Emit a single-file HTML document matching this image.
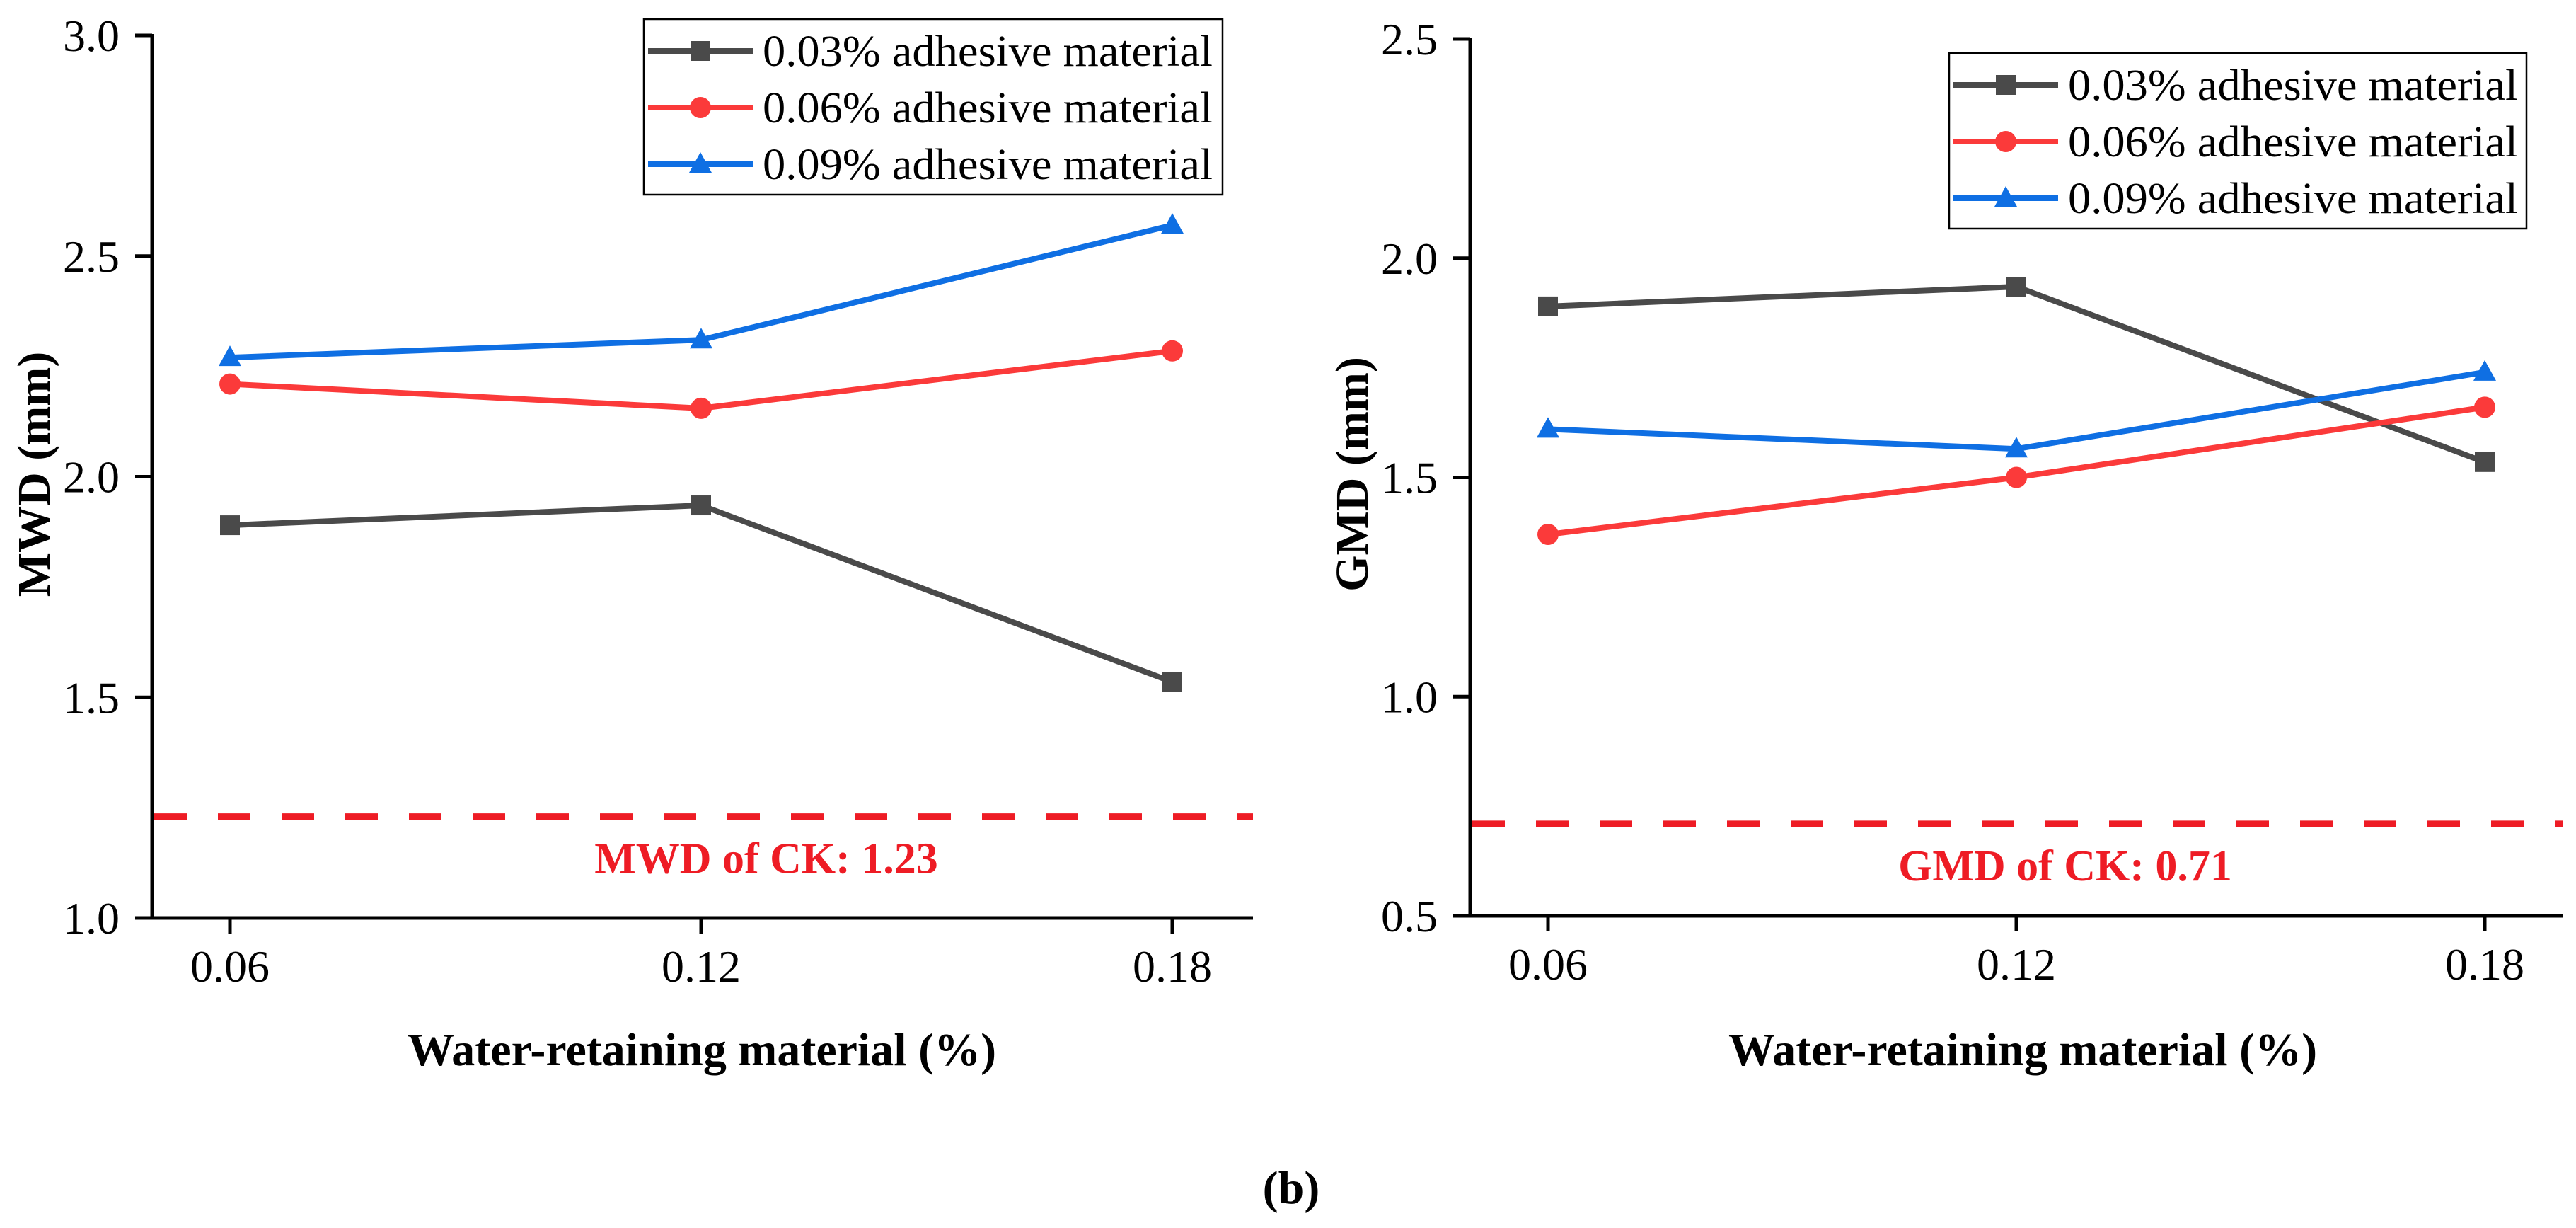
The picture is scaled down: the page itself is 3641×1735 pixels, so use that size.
<!DOCTYPE html>
<html><head><meta charset="utf-8">
<style>
html,body{margin:0;padding:0;background:#fff;}
svg{display:block;font-family:"Liberation Serif",serif;}
</style></head>
<body>
<svg id="fig" width="3641" height="1735" viewBox="0 0 3641 1735" xmlns="http://www.w3.org/2000/svg">
<text x="1825" y="1700" font-size="66" font-weight="bold" text-anchor="middle">(<tspan font-weight="bold">b</tspan>)</text>
</svg>
<script>
const categories = ["0.06", "0.12", "0.18"];
const seriesNames = ["0.03% adhesive material", "0.06% adhesive material", "0.09% adhesive material"];
const mwd003 = [1.89, 1.935, 1.535];
const mwd006 = [2.21, 2.155, 2.285];
const mwd009 = [2.27, 2.31, 2.57];
const gmd003 = [1.89, 1.935, 1.535];
const gmd006 = [1.37, 1.50, 1.66];
const gmd009 = [1.61, 1.565, 1.74];
const mwdTicks = ["1.0", "1.5", "2.0", "2.5", "3.0"];
const gmdTicks = ["0.5", "1.0", "1.5", "2.0", "2.5"];
const mwdCK = 1.23;
const gmdCK = 0.71;

const NS = "http://www.w3.org/2000/svg";
const svg = document.getElementById("fig");
const colors = ["#4a4a4a", "#fb3a3a", "#0f6fe3"];
const markers = ["square", "circle", "triangle"];

function mk(tag, attrs, parent) {
  const e = document.createElementNS(NS, tag);
  for (const k in attrs) e.setAttribute(k, attrs[k]);
  (parent || svg).appendChild(e);
  return e;
}
function marker(g, type, x, y, c) {
  let m;
  if (type === "square") m = mk("rect", {x: x - 14, y: y - 14, width: 28, height: 28, fill: c}, g);
  else if (type === "circle") m = mk("circle", {cx: x, cy: y, r: 15, fill: c}, g);
  else m = mk("polygon", {points: `${x},${y - 17} ${x + 16},${y + 12} ${x - 16},${y + 12}`, fill: c}, g);
  return m;
}

function panel(cfg) {
  const g = mk("g", {});
  
  
  const yS = v => cfg.y0 + (v - cfg.vmin) / (cfg.vmax - cfg.vmin) * (cfg.y1 - cfg.y0);
  const xS = i => cfg.xs[0] + i * (cfg.xs[1] - cfg.xs[0]);
  // axes
  const ax = mk("path", {d: `M${cfg.ax},${cfg.y1 - 2} V${cfg.y0} H${cfg.axEnd}`, stroke: "#000", "stroke-width": 5, fill: "none"}, g);
  
  
  // y ticks
  cfg.ticks.forEach(t => {
    const y = yS(parseFloat(t));
    mk("line", {x1: cfg.ax - 24, x2: cfg.ax, y1: y, y2: y, stroke: "#000", "stroke-width": 5}, g);
    const tx = mk("text", {x: cfg.ax - 46, y: y + 22, "font-size": 64, "text-anchor": "end"}, g);
    tx.textContent = t;
    
    
  });
  // x ticks
  categories.forEach((c, i) => {
    const x = xS(i);
    mk("line", {x1: x, x2: x, y1: cfg.y0, y2: cfg.y0 + 22, stroke: "#000", "stroke-width": 5}, g);
    const tx = mk("text", {x: x, y: cfg.y0 + 90, "font-size": 64, "text-anchor": "middle"}, g);
    tx.textContent = c;
    
    
  });
  // CK dashed line
  const ckY = yS(cfg.ck);
  const dl = mk("line", {x1: cfg.ax + 3, x2: cfg.axEnd, y1: ckY, y2: ckY, stroke: "#ee1c25", "stroke-width": 9, "stroke-dasharray": "46 44"}, g);
  
  
  const ckT = mk("text", {x: cfg.ckX, y: ckY + 80, "font-size": 62, "font-weight": "bold", fill: "#ee1c25", "text-anchor": "middle"}, g);
  ckT.textContent = cfg.ckLabel;
  
  
  // series
  cfg.series.forEach((vals, s) => {
    const sg = mk("g", {}, g);
    
    
    const pts = vals.map((v, i) => `${xS(i)},${yS(v)}`).join(" ");
    mk("polyline", {points: pts, fill: "none", stroke: colors[s], "stroke-width": 8}, sg);
    vals.forEach((v, i) => {
      const m = marker(sg, markers[s], xS(i), yS(v), colors[s]);
      
      
    });
  });
  // legend
  const lg = mk("g", {}, g);
  
  
  mk("rect", {x: cfg.lx, y: cfg.ly, width: cfg.lw, height: 248, fill: "#fff", stroke: "#000", "stroke-width": 2.5}, lg);
  seriesNames.forEach((n, s) => {
    const y = cfg.ly + 45 + s * 80;
    const e = mk("g", {}, lg);
    
    
    mk("line", {x1: cfg.lx + 6, x2: cfg.lx + 154, y1: y, y2: y, stroke: colors[s], "stroke-width": 8}, e);
    marker(e, markers[s], cfg.lx + 80, y, colors[s]);
    const t = mk("text", {x: cfg.lx + 168, y: y + 21, "font-size": 62, textLength: 636, lengthAdjust: "spacingAndGlyphs"}, e);
    t.textContent = n;
  });
  // axis titles
  const yt = mk("text", {x: 0, y: 0, "font-size": 66, "font-weight": "bold", "text-anchor": "middle", transform: `translate(${cfg.ytX},670) rotate(-90)`}, g);
  yt.textContent = cfg.ytitle;
  
  
  const xt = mk("text", {x: cfg.xtX, y: 1505, "font-size": 66, "font-weight": "bold", "text-anchor": "middle"}, g);
  xt.textContent = "Water-retaining material (%)";
  
  
}

panel({name: "mwd-chart", ax: 215, axEnd: 1771, y0: 1297, y1: 50, vmin: 1.0, vmax: 3.0,
  xs: [325, 991], ticks: mwdTicks, ck: mwdCK, ckX: 1083, ckLabel: "MWD of CK: 1.23",
  series: [mwd003, mwd006, mwd009], lx: 910, ly: 27, lw: 818, ytX: 70, ytitle: "MWD (mm)", xtX: 992});
panel({name: "gmd-chart", ax: 2078, axEnd: 3623, y0: 1294, y1: 55, vmin: 0.5, vmax: 2.5,
  xs: [2188, 2850], ticks: gmdTicks, ck: gmdCK, ckX: 2919, ckLabel: "GMD of CK: 0.71",
  series: [gmd003, gmd006, gmd009], lx: 2755, ly: 75, lw: 816, ytX: 1933, ytitle: "GMD (mm)", xtX: 2859});
</script>
</body></html>
